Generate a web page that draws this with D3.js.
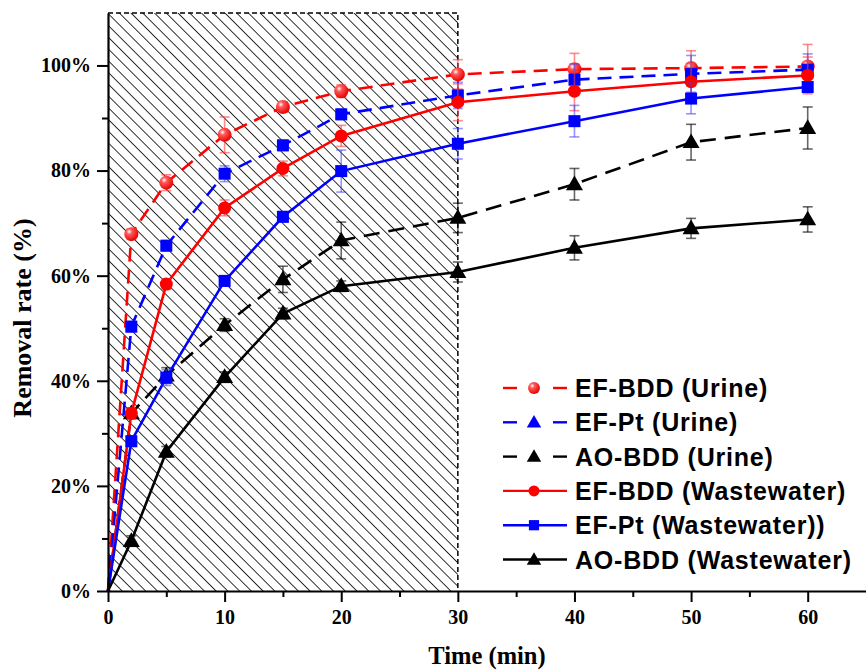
<!DOCTYPE html>
<html>
<head>
<meta charset="utf-8">
<script src="https://cdn.jsdelivr.net/npm/d3@7"></script>
<style>
  html, body { margin: 0; padding: 0; background: #fff; }
  svg { display: block; }
</style>
</head>
<body>
<svg id="chart" width="866" height="670"></svg>
<script>
// ---- data ----
const times = [0, 2, 5, 10, 15, 20, 30, 40, 50, 60];
const efBddUrine   = [0, 67.9, 77.7, 86.8, 92.1, 95.1, 98.3, 99.3, 99.5, 99.8];
const efPtUrine    = [0, 50.3, 65.7, 79.4, 84.8, 90.7, 94.3, 97.3, 98.4, 99.2];
const aoBddUrine   = [0, 33.8, 41.0, 50.6, 59.3, 66.7, 71.0, 77.4, 85.4, 88.1];
const efBddWaste   = [0, 33.8, 58.4, 72.9, 80.4, 86.6, 93.0, 95.1, 96.9, 98.1];
const efPtWaste    = [0, 28.5, 40.6, 59.0, 71.2, 79.9, 85.1, 89.4, 93.7, 95.9];
const aoBddWaste   = [0, 9.5, 26.5, 40.7, 52.8, 58.0, 60.7, 65.3, 69.0, 70.7];

const errEfBddUrine = [0, 1.0, 1.5, 3.4, 1.0, 1.2, 2.8, 3.0, 3.3, 4.2];
const errEfPtUrine  = [0, 1.0, 1.0, 1.5, 1.0, 1.0, 2.5, 3.0, 3.5, 3.0];
const errAoBddUrine = [0, 1.0, 1.5, 1.2, 2.5, 3.5, 2.8, 3.0, 3.4, 4.0];
const errEfBddWaste = [0, 1.0, 1.0, 1.5, 1.4, 2.0, 3.5, 3.7, 3.5, 3.5];
const errEfPtWaste  = [0, 1.0, 1.5, 1.0, 1.0, 4.0, 2.9, 3.0, 2.9, 0.8];
const errAoBddWaste = [0, 1.0, 1.0, 1.0, 1.0, 1.0, 1.9, 2.3, 1.9, 2.4];

const seriesNames = ["EF-BDD (Urine)", "EF-Pt (Urine)", "AO-BDD (Urine)",
                     "EF-BDD (Wastewater)", "EF-Pt (Wastewater))", "AO-BDD (Wastewater)"];
const yTicks = [0, 20, 40, 60, 80, 100];
const yMinor = [10, 30, 50, 70, 90];
const xTicks = [0, 10, 20, 30, 40, 50, 60];
const xMinor = [5, 15, 25, 35, 45, 55];
const shadedRange = [0, 30];

// styling per series (not data)
const styles = [
  { values: efBddUrine, err: errEfBddUrine, color: "#ff0000", errColor: "rgba(255,60,60,0.6)", dash: "14,8", marker: "sphere", legendMarker: "sphere" },
  { values: efPtUrine,  err: errEfPtUrine,  color: "#0000ff", errColor: "rgba(60,60,255,0.55)", dash: "14,8", marker: "square", legendMarker: "triangle" },
  { values: aoBddUrine, err: errAoBddUrine, color: "#000000", errColor: "rgba(0,0,0,0.6)", dash: "16,9", marker: "triangle", legendMarker: "triangle" },
  { values: efBddWaste, err: errEfBddWaste, color: "#ff0000", errColor: "rgba(255,60,60,0.6)", dash: null, marker: "circle", legendMarker: "circle" },
  { values: efPtWaste,  err: errEfPtWaste,  color: "#0000ff", errColor: "rgba(60,60,255,0.55)", dash: null, marker: "square", legendMarker: "square" },
  { values: aoBddWaste, err: errAoBddWaste, color: "#000000", errColor: "rgba(0,0,0,0.6)", dash: null, marker: "triangle", legendMarker: "triangle" }
];

const svg = d3.select("#chart");
const x = d3.scaleLinear().domain([0, 65]).range([108, 866]);
const y = d3.scaleLinear().domain([0, 110]).range([591, 12.9]);

const defs = svg.append("defs");
const pat = defs.append("pattern")
  .attr("id", "hatch").attr("patternUnits", "userSpaceOnUse")
  .attr("width", 8.3).attr("height", 8.3)
  .attr("patternTransform", "rotate(-45)");
pat.append("line").attr("x1", 0).attr("y1", -2).attr("x2", 0).attr("y2", 12)
  .attr("stroke", "#000").attr("stroke-width", 1.6);

const grad = defs.append("radialGradient").attr("id", "sphere")
  .attr("cx", "35%").attr("cy", "32%").attr("r", "70%");
grad.append("stop").attr("offset", "0%").attr("stop-color", "#ffffff");
grad.append("stop").attr("offset", "28%").attr("stop-color", "#ff5a5a");
grad.append("stop").attr("offset", "100%").attr("stop-color", "#e60000");

// shaded region
const sx0 = x(shadedRange[0]), sx1 = x(shadedRange[1]);
const sy0 = y(110), sy1 = y(0);
svg.append("rect").attr("x", sx0).attr("y", sy0).attr("width", sx1 - sx0).attr("height", sy1 - sy0)
  .attr("fill", "url(#hatch)");
svg.append("path")
  .attr("d", `M${sx0},${sy0}H${sx1}V${sy1}`)
  .attr("fill", "none").attr("stroke", "#000").attr("stroke-width", 1.5)
  .attr("stroke-dasharray", "5,3");

// markers
function drawMarker(g, type, cx, cy, color, scale) {
  const s = scale || 1;
  if (type === "sphere") {
    g.append("circle").attr("cx", cx).attr("cy", cy).attr("r", 7 * s).attr("fill", "url(#sphere)");
  } else if (type === "circle") {
    g.append("circle").attr("cx", cx).attr("cy", cy).attr("r", 6.5 * s).attr("fill", color);
  } else if (type === "square") {
    const h = 6 * s;
    g.append("rect").attr("x", cx - h).attr("y", cy - h).attr("width", 2 * h).attr("height", 2 * h).attr("fill", color);
  } else if (type === "triangle") {
    const sym = d3.symbol().type(d3.symbolTriangle).size(125 * s * s);
    g.append("path").attr("d", sym()).attr("transform", `translate(${cx},${cy + 1})`).attr("fill", color);
  }
}

const line = d3.line().x(d => x(d[0])).y(d => y(d[1]));

styles.forEach(st => {
  const g = svg.append("g");
  const pts = times.map((t, i) => [t, st.values[i]]);
  g.append("path").attr("d", line(pts)).attr("fill", "none")
    .attr("stroke", st.color).attr("stroke-width", 2.6)
    .attr("stroke-dasharray", st.dash);
  // error bars
  times.forEach((t, i) => {
    const e = st.err[i];
    if (!e) return;
    const cx = x(t), top = y(st.values[i] + e), bot = y(st.values[i] - e);
    g.append("line").attr("x1", cx).attr("x2", cx).attr("y1", top).attr("y2", bot)
      .attr("stroke", st.errColor).attr("stroke-width", 1.6);
    [top, bot].forEach(yy => g.append("line").attr("x1", cx - 5).attr("x2", cx + 5).attr("y1", yy).attr("y2", yy)
      .attr("stroke", st.errColor).attr("stroke-width", 1.6));
  });
  // markers (the origin point carries no visible marker in the reference)
  times.forEach((t, i) => { if (t > 0) drawMarker(g, st.marker, x(t), y(st.values[i]), st.color); });
});

// axes
const serif = "'Liberation Serif','Times New Roman',serif";
svg.append("g").attr("transform", `translate(${x(0)},0)`)
  .call(d3.axisLeft(y).tickValues(yTicks).tickFormat(d => d + "%").tickSize(11).tickSizeOuter(0).tickPadding(6));
svg.append("g").attr("transform", `translate(${x(0)},0)`)
  .call(d3.axisLeft(y).tickValues(yMinor).tickFormat("").tickSize(6).tickSizeOuter(0))
  .select(".domain").remove();
svg.append("g").attr("transform", `translate(0,${y(0)})`)
  .call(d3.axisBottom(x).tickValues(xTicks).tickFormat(d3.format("d")).tickSize(11).tickSizeOuter(0).tickPadding(8));
svg.append("g").attr("transform", `translate(0,${y(0)})`)
  .call(d3.axisBottom(x).tickValues(xMinor).tickFormat("").tickSize(6).tickSizeOuter(0))
  .select(".domain").remove();

svg.selectAll(".domain").attr("stroke", "#000").attr("stroke-width", 2.2);
svg.selectAll(".tick line").attr("stroke", "#000").attr("stroke-width", 2);
svg.selectAll(".tick text").attr("font-family", serif).attr("font-weight", "bold")
  .attr("font-size", 20).attr("fill", "#000");

svg.append("text").attr("x", 487).attr("y", 664).attr("text-anchor", "middle")
  .attr("font-family", serif).attr("font-weight", "bold").attr("font-size", 24.5)
  .text("Time (min)");
svg.append("text").attr("transform", "translate(31,318) rotate(-90)").attr("text-anchor", "middle")
  .attr("font-family", serif).attr("font-weight", "bold").attr("font-size", 26)
  .text("Removal rate (%)");

// legend
const lg = svg.append("g");
const lx0 = 503, lx1 = 567, lmx = 534, ltx = 575, ly0 = 388, ldy = 34.3;
seriesNames.forEach((name, i) => {
  const st = styles[i];
  const ly = ly0 + i * ldy;
  if (st.dash) {
    lg.append("line").attr("x1", lx0).attr("x2", lx0 + 14).attr("y1", ly).attr("y2", ly)
      .attr("stroke", st.color).attr("stroke-width", 2.4);
    lg.append("line").attr("x1", lx1 - 14).attr("x2", lx1).attr("y1", ly).attr("y2", ly)
      .attr("stroke", st.color).attr("stroke-width", 2.4);
  } else {
    lg.append("line").attr("x1", lx0).attr("x2", lx1).attr("y1", ly).attr("y2", ly)
      .attr("stroke", st.color).attr("stroke-width", 2.4);
  }
  drawMarker(lg, st.legendMarker, lmx, ly, st.color, 0.85);
  lg.append("text").attr("x", ltx).attr("y", ly + 9)
    .attr("font-family", "'Liberation Sans',Arial,sans-serif").attr("font-weight", "bold")
    .attr("font-size", 25).attr("letter-spacing", 0.8).attr("fill", "#000")
    .text(name);
});
</script>
</body>
</html>
